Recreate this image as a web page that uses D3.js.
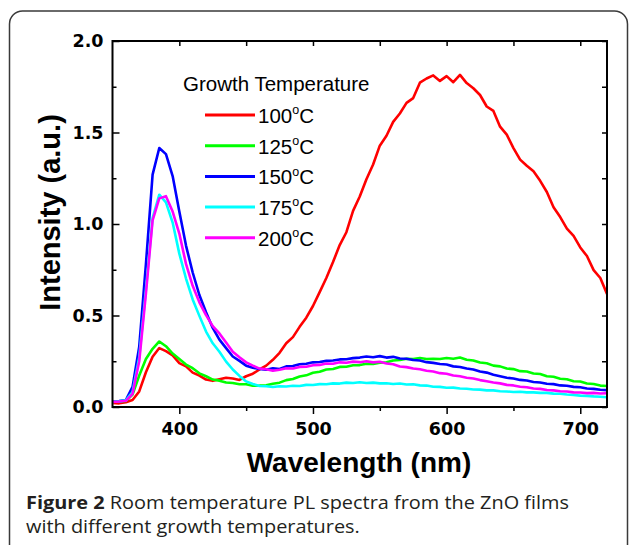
<!DOCTYPE html>
<html>
<head>
<meta charset="utf-8">
<script src="https://cdn.jsdelivr.net/npm/d3@7"></script>
<style>
  body { margin: 0; background: #fff; }
</style>
</head>
<body>
<svg id="chart" width="629" height="545"></svg>
<script>
  // wavelength grid (nm)
  var wavelength = [
    350, 355, 360, 365, 370, 375, 380, 385, 390, 395, 400, 405, 410, 415, 420,
    425, 430, 435, 440, 445, 450, 455, 460, 465, 470, 475, 480, 485, 490, 495,
    500, 505, 510, 515, 520, 525, 530, 535, 540, 545, 550, 555, 560, 565, 570,
    575, 580, 585, 590, 595, 600, 605, 610, 615, 620, 625, 630, 635, 640, 645,
    650, 655, 660, 665, 670, 675, 680, 685, 690, 695, 700, 705, 710, 715, 720
  ];

  var pl100 = [
    .022, .020, .026, .038, .085, .190, .275, .322, .305, .282, .240, .222, .188, .172, .150,
    .143, .152, .160, .156, .148, .168, .182, .205, .226, .258, .296, .348, .382, .438, .488,
    .552, .628, .705, .792, .885, .955, 1.072, 1.150, 1.245, 1.325, 1.428, 1.482, 1.558, 1.604, 1.662,
    1.688, 1.772, 1.795, 1.812, 1.782, 1.808, 1.775, 1.815, 1.770, 1.742, 1.705, 1.642, 1.618, 1.532, 1.488,
    1.415, 1.352, 1.318, 1.288, 1.236, 1.175, 1.092, 1.038, .975, .935, .872, .825, .748, .705, .618
  ];
  var pl125 = [
    .028, .031, .033, .068, .172, .262, .318, .358, .332, .292, .262, .232, .212, .184, .168,
    .150, .144, .134, .131, .124, .124, .116, .117, .119, .127, .133, .147, .153, .167, .173,
    .187, .193, .205, .208, .219, .220, .228, .229, .236, .235, .242, .244, .254, .257, .264,
    .262, .268, .262, .263, .262, .268, .264, .270, .258, .254, .243, .239, .226, .222, .210,
    .207, .196, .194, .183, .180, .168, .165, .154, .152, .141, .139, .128, .126, .117, .115
  ];
  var pl150 = [
    .030, .032, .038, .110, .330, .780, 1.270, 1.415, 1.382, 1.262, 1.068, .882, .735, .612, .518,
    .432, .368, .322, .276, .252, .226, .214, .208, .204, .212, .208, .222, .224, .234, .236,
    .244, .246, .252, .254, .260, .261, .267, .270, .276, .272, .278, .270, .274, .265, .264,
    .257, .254, .245, .241, .235, .232, .222, .219, .210, .205, .194, .188, .176, .168, .160,
    .156, .148, .145, .137, .134, .127, .125, .118, .116, .110, .108, .101, .099, .094, .092
  ];
  var pl175 = [
    .028, .031, .036, .082, .272, .642, 1.032, 1.160, 1.118, 1.008, .838, .702, .588, .498, .412,
    .348, .302, .248, .205, .170, .140, .126, .115, .113, .109, .113, .112, .116, .115, .121,
    .120, .125, .124, .129, .128, .133, .131, .135, .131, .133, .129, .130, .126, .128, .123,
    .124, .118, .117, .111, .110, .105, .106, .101, .100, .096, .095, .091, .091, .086, .085,
    .082, .083, .080, .080, .077, .077, .073, .072, .068, .066, .062, .061, .058, .056, .053
  ];
  var pl200 = [
    .028, .030, .034, .072, .250, .620, 1.020, 1.140, 1.152, 1.068, .948, .782, .662, .572, .502,
    .442, .402, .352, .302, .272, .244, .226, .210, .206, .198, .204, .212, .210, .219, .220,
    .228, .230, .238, .236, .244, .242, .248, .245, .250, .244, .247, .238, .234, .221, .218,
    .210, .206, .198, .194, .185, .182, .172, .168, .160, .156, .147, .141, .134, .129, .121,
    .118, .111, .108, .101, .099, .093, .091, .086, .085, .080, .079, .076, .077, .074, .075
  ];

  var seriesNames = ["100", "125", "150", "175", "200"];
  var seriesColors = ["#ff0000", "#00ff00", "#0000ff", "#00ffff", "#ff00ff"];
  var seriesValues = [pl100, pl125, pl150, pl175, pl200];

  var xMajor = [400, 500, 600, 700], xMinor = [450, 550, 650];
  var yMajor = [0, 0.5, 1.0, 1.5, 2.0], yMinor = [0.25, 0.75, 1.25, 1.75];

  var pLeft = 112.5, pRight = 607, pTop = 41, pBottom = 407;

  var svg = d3.select("#chart");

  // outer rounded panel
  svg.append("rect")
    .attr("x", 9.5).attr("y", 11)
    .attr("width", 618).attr("height", 560)
    .attr("rx", 13)
    .attr("fill", "none")
    .attr("stroke", "#3a3a3a")
    .attr("stroke-width", 1.5);

  var x = d3.scaleLinear().domain([350, 720]).range([pLeft, pRight]);
  var y = d3.scaleLinear().domain([0, 2]).range([pBottom, pTop]);

  svg.append("clipPath").attr("id", "plotclip")
    .append("rect")
    .attr("x", pLeft).attr("y", pTop)
    .attr("width", pRight - pLeft).attr("height", pBottom - pTop);

  var tickFont = "'DejaVu Sans', sans-serif";

  function styleAxis(g) {
    g.select(".domain").remove();
    g.selectAll("line").attr("stroke", "#000").attr("stroke-width", 1.5);
    g.selectAll("text")
      .attr("fill", "#000")
      .style("font-family", tickFont)
      .style("font-weight", "bold")
      .style("font-size", "17.5px");
  }

  // bottom axis, ticks outward
  svg.append("g").attr("transform", "translate(0," + pBottom + ")")
    .call(d3.axisBottom(x).tickValues(xMajor).tickSize(7).tickPadding(9).tickFormat(d3.format("d")))
    .call(styleAxis);
  svg.append("g").attr("transform", "translate(0," + pBottom + ")")
    .call(d3.axisBottom(x).tickValues(xMinor).tickSize(4).tickFormat(""))
    .call(styleAxis);

  // left axis, ticks inward
  svg.append("g").attr("transform", "translate(" + pLeft + ",0)")
    .call(d3.axisLeft(y).tickValues(yMajor).tickSize(-7).tickPadding(9).tickFormat(d3.format(".1f")))
    .call(styleAxis);
  svg.append("g").attr("transform", "translate(" + pLeft + ",0)")
    .call(d3.axisLeft(y).tickValues(yMinor).tickSize(-4).tickFormat(""))
    .call(styleAxis);

  // mirrored top / right ticks
  svg.append("g").attr("transform", "translate(0," + pTop + ")")
    .call(d3.axisTop(x).tickValues(xMajor.concat(xMinor)).tickSize(-5).tickFormat(""))
    .call(styleAxis);
  svg.append("g").attr("transform", "translate(" + pRight + ",0)")
    .call(d3.axisRight(y).tickValues(yMajor.concat(yMinor)).tickSize(-5).tickFormat(""))
    .call(styleAxis);

  // spectra
  var line = d3.line()
    .x(function (d) { return x(d[0]); })
    .y(function (d) { return y(d[1]); });

  var plot = svg.append("g").attr("clip-path", "url(#plotclip)");
  seriesValues.forEach(function (vals, i) {
    var pts = wavelength.map(function (w, j) { return [w, vals[j]]; });
    plot.append("path")
      .datum(pts)
      .attr("d", line)
      .attr("fill", "none")
      .attr("stroke", seriesColors[i])
      .attr("stroke-width", 2.6)
      .attr("stroke-linejoin", "round");
  });

  // frame
  svg.append("rect")
    .attr("x", pLeft).attr("y", pTop)
    .attr("width", pRight - pLeft).attr("height", pBottom - pTop)
    .attr("fill", "none")
    .attr("stroke", "#000")
    .attr("stroke-width", 2);

  // legend
  var legFont = "'Liberation Sans', Arial, sans-serif";
  svg.append("text")
    .attr("x", 183).attr("y", 90.5)
    .style("font-family", legFont).style("font-size", "20.5px")
    .text("Growth Temperature");

  var leg = svg.append("g");
  seriesNames.forEach(function (name, i) {
    var ly = 115 + i * 30.7;
    leg.append("line")
      .attr("x1", 205).attr("x2", 255)
      .attr("y1", ly).attr("y2", ly)
      .attr("stroke", seriesColors[i])
      .attr("stroke-width", 3);
    var t = leg.append("text")
      .attr("x", 258).attr("y", ly + 7.8)
      .style("font-family", legFont).style("font-size", "20.5px");
    t.append("tspan").text(name);
    t.append("tspan").attr("dy", -8.5).style("font-size", "12.5px").text("o");
    t.append("tspan").attr("dy", 8.5).text("C");
  });

  // axis titles
  var titleFont = "'Liberation Sans', Arial, sans-serif";
  svg.append("text")
    .attr("transform", "translate(60,212.5) rotate(-90)")
    .attr("text-anchor", "middle")
    .style("font-family", titleFont).style("font-weight", "bold").style("font-size", "29px")
    .text("Intensity (a.u.)");
  svg.append("text")
    .attr("x", 359).attr("y", 472)
    .attr("text-anchor", "middle")
    .style("font-family", titleFont).style("font-weight", "bold").style("font-size", "28px")
    .text("Wavelength (nm)");

  // caption (condensed to the reference line length)
  var capFont = "'Open Sans', 'Noto Sans', sans-serif";
  var capSize = "18.5px";
  var cap1 = svg.append("text")
    .attr("x", 26).attr("y", 509)
    .attr("fill", "#231f20")
    .style("font-family", capFont).style("font-size", capSize);
  cap1.append("tspan").style("font-weight", "bold").text("Figure 2");
  cap1.append("tspan").text(" Room temperature PL spectra from the ZnO films");
  var cap2 = svg.append("text")
    .attr("x", 26).attr("y", 533)
    .attr("fill", "#231f20")
    .style("font-family", capFont).style("font-size", capSize)
    .text("with different growth temperatures.");

  var w1 = cap1.node().getComputedTextLength();
  var w2 = cap2.node().getComputedTextLength();
  var k = 543 / w1;
  cap1.attr("textLength", 543).attr("lengthAdjust", "spacingAndGlyphs");
  cap2.attr("textLength", w2 * k).attr("lengthAdjust", "spacingAndGlyphs");
</script>
</body>
</html>
